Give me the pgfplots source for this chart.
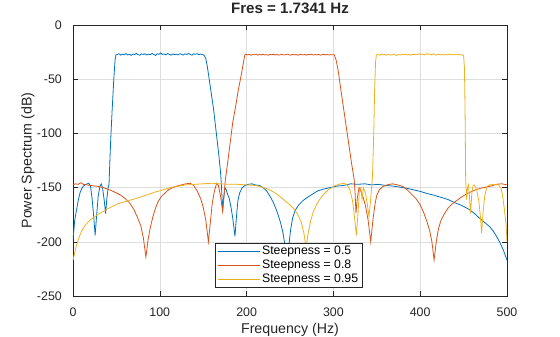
\documentclass[border=0pt]{standalone}
\usepackage{pgfplots}
\pgfplotsset{compat=1.18}
\usepackage{fontspec}
\setmainfont{Liberation Sans}
\definecolor{mblue}{rgb}{0,0.447,0.741}
\definecolor{morange}{rgb}{0.85,0.325,0.098}
\definecolor{myellow}{rgb}{0.929,0.694,0.125}
\definecolor{gridc}{rgb}{0.87,0.87,0.87}
\definecolor{axc}{rgb}{0.15,0.15,0.15}
\begin{document}
\begin{tikzpicture}
\useasboundingbox (-73bp,-41bp) rectangle (487bp,296bp);
\begin{axis}[
  at={(0,0)}, anchor=south west,
  scale only axis, width=434bp, height=271bp,
  xmin=0, xmax=500, ymin=-250, ymax=0,
  xtick={0,100,200,300,400,500},
  ytick={-250,-200,-150,-100,-50,0},
  grid=major, grid style={color=gridc, line width=0.5bp},
  tick align=inside, major tick length=5bp,
  tick style={color=axc, line width=0.5bp},
  axis line style={color=axc, line width=0.5bp},
  /pgf/number format/assume math mode=true,
  ticklabel style={font=\fontsize{12.4bp}{14bp}\selectfont, text=axc},
  xticklabel style={anchor=base, inner sep=0pt, yshift=-20bp},
  yticklabel style={anchor=east, inner sep=0pt, xshift=-11bp},
  xlabel={Frequency (Hz)},
  ylabel={Power Spectrum (dB)},
  xlabel style={at={(axis description cs:0.5,-0.1376)}, anchor=base, inner sep=0pt, font=\fontsize{14.2bp}{16bp}\selectfont, text=axc},
  ylabel style={at={(axis description cs:-0.1037,0.5)}, anchor=center, inner sep=0pt, font=\fontsize{14.2bp}{16bp}\selectfont, text=axc},
  title={\bfseries Fres = 1.7341 Hz},
  title style={at={(axis description cs:0.5,1)}, anchor=base, inner sep=0pt, yshift=5.7bp, font=\fontsize{15.1bp}{17bp}\selectfont, text=axc},
  legend cell align=left,
  legend image code/.code={\draw[#1] (0bp,0bp) -- (42bp,0bp);},
  legend style={at={(axis description cs:0.3272,0.0332)}, anchor=south west,
    draw=axc, line width=0.5bp, fill=white,
    font=\fontsize{12.3bp}{14bp}\selectfont,
    inner xsep=2bp, inner ysep=0.5bp, row sep=0pt,
    nodes={inner sep=2bp}},
  every axis plot/.append style={line width=0.8bp},
]
\addplot[mblue] coordinates {
(0,-198) (2,-180) (4,-171) (6,-162) (8,-155) (10,-151) (12,-148.5) (15,-147) (18,-146) (20,-148) (22,-160) (24,-178) (25.5,-194) (27,-178) (29,-158) (31,-149) (32.5,-146.5) (34,-150) (36,-162) (37.6,-174) (39,-160) (40.5,-150) (41.5,-147) (42.5,-125) (43.5,-105) (45,-80) (47,-50) (48.5,-32) (49.5,-27.5)
(51,-27.2) (53,-26.5) (55,-27.8) (57,-26.9) (59,-27.5) (61,-26.4) (63,-27.6) (65,-27.0) (67,-28.0) (69,-26.8) (71,-27.3) (73,-26.2) (75,-27.4) (77,-27.9) (79,-26.7) (81,-27.2) (83,-26.5) (85,-27.7) (87,-26.9) (89,-27.4) (91,-26.3) (93,-27.1) (95,-28.1) (97,-26.6) (99,-27.0) (101,-25.9) (103,-27.2) (105,-26.7) (107,-27.5) (109,-26.4) (111,-27.1) (113,-27.8) (115,-26.7) (117,-27.3) (119,-26.9) (121,-27.6) (123,-26.5) (125,-27.0) (127,-27.7) (129,-26.6) (131,-27.2) (133,-26.3) (135,-27.1) (137,-27.8) (139,-26.6) (141,-27.0) (143,-26.5) (145,-27.4) (147,-26.8) (149,-27.2) (151,-27.8)
(153,-31) (154.5,-37) (156,-45) (158,-56) (160,-67) (162,-78) (164,-92) (166,-106) (168,-120) (170,-136) (171,-148) (172.4,-171) (173.5,-160) (175,-150) (176.5,-152) (178,-156) (180,-160) (182,-168) (184,-178) (186.6,-195) (188.5,-175) (190,-162) (192,-155) (195,-150) (198,-148) (202,-147) (206,-146.5) (210,-147.5) (215,-148) (219,-150) (223,-153) (227,-158) (231,-164) (235,-172) (239,-182) (242,-192) (244.5,-205) (246.5,-215) (248.5,-205) (250.5,-190) (253,-178) (256,-171) (260,-166) (265,-162) (270,-159) (276,-156) (282,-153) (288,-151.5) (296,-150) (305,-148.5) (312,-148) (320,-146.5) (328,-147) (336,-146.5) (344,-147.5) (352,-147) (360,-148) (368,-148.5) (376,-149.5) (384,-150.5) (392,-152) (400,-153.5) (408,-155.5) (416,-157) (424,-159) (432,-161) (440,-164) (448,-166.5) (456,-170) (462,-173.5) (468,-178) (474,-182) (480,-186) (484,-190) (488,-195) (492,-201) (496,-208) (500,-217)
};
\addlegendentry{Steepness = 0.5}
\addplot[morange] coordinates {
(0,-147.5) (3,-146.5) (6,-147) (9,-145.5) (12,-147) (16,-147.5) (20,-148) (25,-148.5) (30,-149) (35,-150) (40,-151.5) (45,-153) (50,-155) (55,-157) (60,-160) (65,-164) (70,-170) (74,-177) (78,-185) (81,-196) (84,-214) (86.5,-198) (89,-187) (92,-177) (95,-169) (98,-163) (102,-158) (106,-155) (110,-152) (115,-150) (120,-148.5) (125,-147.5) (130,-146.5) (135,-146) (139,-148) (143,-153) (147,-160) (150,-168) (153,-180) (156,-200) (158.5,-180) (160.5,-164) (163,-153) (165.5,-146) (167.5,-148) (170,-158) (172.4,-172) (174,-158) (175.5,-143) (178,-128) (181.5,-106) (184,-90) (187.4,-75) (190,-62) (194.3,-44) (196.5,-34) (198,-27.5)
(199,-27.0) (201,-27.6) (203,-27.1) (205,-27.9) (207,-27.3) (209,-27.5) (211,-26.9) (213,-27.8) (215,-27.2) (217,-27.6) (219,-27.0) (221,-27.7) (223,-27.3) (225,-27.9) (227,-27.1) (229,-27.5) (231,-27.0) (233,-27.6) (235,-27.2) (237,-27.8) (239,-27.4) (241,-27.0) (243,-27.7) (245,-27.3) (247,-26.9) (249,-27.5) (251,-27.8) (253,-27.1) (255,-27.6) (257,-27.2) (259,-27.9) (261,-27.3) (263,-27.0) (265,-27.6) (267,-27.2) (269,-27.8) (271,-27.1) (273,-27.5) (275,-27.0) (277,-27.7) (279,-27.3) (281,-27.6) (283,-27.1) (285,-27.8) (287,-27.4) (289,-27.0) (291,-27.6) (293,-27.2) (295,-27.7) (297,-27.3) (299,-27.5) (301,-27.5)
(303,-32) (305.5,-42) (309,-62) (313,-84) (317,-106) (321,-128) (324,-143) (325,-155) (326,-173.7) (327.5,-160) (329.5,-150) (331,-152) (334,-158) (337,-167) (340,-180) (343,-200) (345.5,-180) (348,-165) (350,-157) (353,-152) (357,-149) (362,-147.5) (368,-146.5) (374,-147.5) (380,-149) (385,-152) (390,-156) (395,-160) (400,-166) (404,-173) (408,-182) (411,-190) (413.5,-200) (416,-216.8) (418.5,-200) (421,-188) (424,-180) (428,-174) (432,-169) (437,-165) (442,-162) (447,-159) (452,-156.5) (458,-154) (464,-152) (470,-150.5) (476,-149.5) (482,-148.5) (488,-147) (494,-146.5) (500,-147.5)
};
\addlegendentry{Steepness = 0.8}
\addplot[myellow] coordinates {
(0,-217) (2,-210) (4,-203) (7,-196) (10,-190) (13,-186) (17,-182) (21,-179) (25,-177) (30,-174) (35,-172) (40,-169.5) (45,-167.5) (50,-165.5) (55,-164) (60,-163) (66,-161.5) (73,-160) (80,-158) (88,-156) (95,-154) (100,-153) (108,-151) (115,-149.5) (123,-148.5) (130,-147.5) (140,-147) (150,-146.5) (160,-146) (170,-146.5) (180,-147) (190,-147) (200,-147.5) (210,-148) (218,-149.5) (225,-151.5) (232,-154.5) (238,-158) (244,-162) (250,-166) (255,-170) (259,-175) (263,-182) (266,-192) (268.5,-205) (271,-192) (274,-180) (277,-172) (281,-165) (285,-160) (289,-156) (294,-152) (300,-149) (306,-147) (312,-146) (316,-147.5) (319,-152) (322,-162) (324,-175) (326.5,-194) (328.5,-172) (330,-152) (331.5,-150) (333,-161) (334.5,-150) (337,-155) (339,-165) (341,-177) (343,-160) (345,-140) (346.5,-100) (347.5,-60) (348.5,-35) (349.5,-27.5)
(351,-27.3) (353,-27.8) (355,-27.0) (357,-27.6) (359,-27.2) (361,-27.9) (363,-27.1) (365,-27.5) (367,-27.8) (369,-27.0) (371,-27.6) (373,-28.0) (375,-27.2) (377,-27.7) (379,-27.1) (381,-27.5) (383,-26.9) (385,-27.6) (387,-27.2) (389,-27.8) (391,-27.0) (393,-27.4) (395,-26.8) (397,-27.3) (399,-26.5) (401,-27.2) (403,-26.9) (405,-27.6) (407,-26.4) (409,-27.1) (411,-26.7) (413,-27.5) (415,-26.6) (417,-27.3) (419,-27.8) (421,-26.9) (423,-27.5) (425,-27.1) (427,-27.7) (429,-27.2) (431,-27.6) (433,-27.0) (435,-27.5) (437,-27.2) (439,-27.7) (441,-26.9) (443,-27.4) (445,-27.1) (447,-27.6) (449,-27.8)
(450,-28.5) (451,-40) (451.7,-80) (452.4,-143) (453.5,-161) (454.5,-150) (455.5,-147.5) (456.5,-155) (458,-174) (459.5,-155) (461,-148) (462.5,-147.5) (465,-152) (467.5,-162) (469.5,-178) (470.8,-192) (472.5,-172) (474.5,-157) (477,-149) (480,-147.5) (485,-147) (490,-147.5) (493,-150) (495,-158) (497,-170) (499,-185) (500,-200)
};
\addlegendentry{Steepness = 0.95}
\end{axis}
\end{tikzpicture}
\end{document}
